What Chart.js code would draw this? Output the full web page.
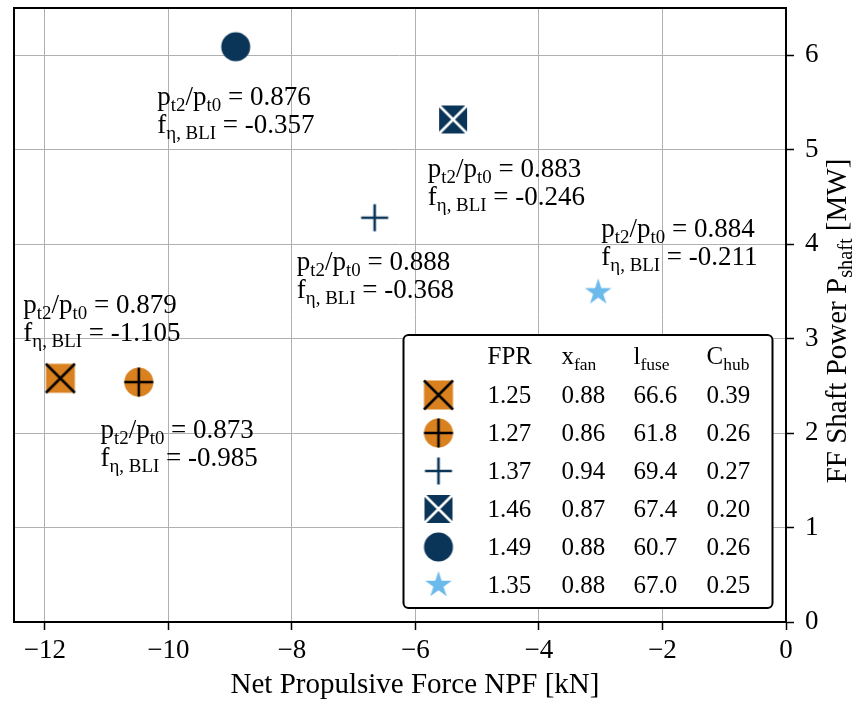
<!DOCTYPE html>
<html>
<head>
<meta charset="utf-8">
<script src="https://cdn.jsdelivr.net/npm/chart.js@4.4.1/dist/chart.umd.min.js"></script>
<style>
  html, body { margin: 0; padding: 0; background: #fff; }
  #wrap { width: 852px; height: 702px; }
</style>
</head>
<body>
<div id="wrap"><canvas id="chart" width="852" height="702"></canvas></div>
<script>
/* ---- data ---- */
const npf    = [-11.75, -10.48, -6.66, -5.39, -8.91, -3.04];   // kN
const pShaft = [2.58, 2.54, 4.28, 5.32, 6.09, 3.49];          // MW

const fpr   = ["1.25", "1.27", "1.37", "1.46", "1.49", "1.35"];
const xFan  = ["0.88", "0.86", "0.94", "0.87", "0.88", "0.88"];
const lFuse = ["66.6", "61.8", "69.4", "67.4", "60.7", "67.0"];
const cHub  = ["0.39", "0.26", "0.27", "0.20", "0.26", "0.25"];

const ptRatio = ["0.879", "0.873", "0.888", "0.883", "0.876", "0.884"];
const fBli    = ["-1.105", "-0.985", "-0.368", "-0.246", "-0.357", "-0.211"];

// where each annotation text starts (data coords, first line baseline)
const labelX = [-12.35, -11.10, -7.92, -5.80, -10.18, -2.99];
const labelY = [3.27, 1.95, 3.73, 4.71, 5.47, 4.08];

const xTicksStep = 2;
const yTicksStep = 1;

/* ---- styling ---- */
const FONT = "'Liberation Serif', 'Times New Roman', serif";
const FS_TABLE = 25;
const FS_NOTE = 27;
const FS_TICK = 27;
const FS_TITLE = 29;
const ORANGE = "#d9811e";
const NAVY = "#0b3558";
const SKY = "#6cb9eb";

/* ---- marker images ---- */
function makeMarker(kind) {
  const c = document.createElement("canvas");
  c.width = 34; c.height = 34;
  const g = c.getContext("2d");
  g.translate(17, 17);
  const h = 14.5;
  if (kind === "sqX" || kind === "sqXw") {
    g.fillStyle = kind === "sqX" ? ORANGE : NAVY;
    g.fillRect(-h, -h, 2 * h, 2 * h);
    g.strokeStyle = kind === "sqX" ? "#000" : "#fff";
    g.lineWidth = 2.5;
    g.beginPath();
    g.moveTo(-h, -h); g.lineTo(h, h);
    g.moveTo(h, -h); g.lineTo(-h, h);
    g.stroke();
    if (kind === "sqXw") {
      g.lineWidth = 1;
      g.strokeRect(-h, -h, 2 * h, 2 * h);
    }
  } else if (kind === "circPlus") {
    g.fillStyle = ORANGE;
    g.beginPath(); g.arc(0, 0, h, 0, Math.PI * 2); g.fill();
    g.strokeStyle = "#000"; g.lineWidth = 2.5;
    g.beginPath();
    g.moveTo(-h, 0); g.lineTo(h, 0);
    g.moveTo(0, -h); g.lineTo(0, h);
    g.stroke();
  } else if (kind === "plus") {
    g.strokeStyle = NAVY; g.lineWidth = 2.6;
    g.beginPath();
    g.moveTo(-13.5, 0); g.lineTo(13.5, 0);
    g.moveTo(0, -13.5); g.lineTo(0, 13.5);
    g.stroke();
  } else if (kind === "circ") {
    g.fillStyle = NAVY;
    g.beginPath(); g.arc(0, 0, h, 0, Math.PI * 2); g.fill();
  } else if (kind === "star") {
    const R = 14, r = R * 0.381966;
    g.fillStyle = SKY;
    g.beginPath();
    for (let k = 0; k < 10; k++) {
      const rad = k % 2 === 0 ? R : r;
      const a = -Math.PI / 2 + k * Math.PI / 5;
      const px = rad * Math.cos(a), py = rad * Math.sin(a);
      if (k === 0) g.moveTo(px, py); else g.lineTo(px, py);
    }
    g.closePath();
    g.fill();
  }
  return c;
}
const markers = ["sqX", "circPlus", "plus", "sqXw", "circ", "star"].map(makeMarker);

/* ---- text with subscripts ---- */
function drawRich(ctx, parts, x, y, size, measureOnly) {
  let cx = x;
  parts.forEach(p => {
    const t = p[0], sub = p[1];
    const s = sub ? size * 0.7 : size;
    ctx.font = s + "px " + FONT;
    if (!measureOnly) ctx.fillText(t, cx, sub ? y + size * 0.22 : y);
    cx += ctx.measureText(t).width;
  });
  return cx - x;
}

function fmtTick(v) {
  return v < 0 ? "\u2212" + Math.abs(v) : String(v);
}

function noScalePad(s) {
  s.paddingTop = 0; s.paddingBottom = 0;
  s.paddingLeft = 0; s.paddingRight = 0;
}

/* ---- plugins ---- */
const framePlugin = {
  id: "frame",
  afterDraw(chart) {
    const { ctx, chartArea: a } = chart;
    ctx.save();
    ctx.strokeStyle = "#000";
    ctx.lineWidth = 2;
    ctx.beginPath();
    ctx.moveTo(a.left, a.bottom + 1);
    ctx.lineTo(a.left, a.top);
    ctx.lineTo(a.right + 1, a.top);
    ctx.stroke();

    // axis titles
    ctx.fillStyle = "#000";
    ctx.textBaseline = "alphabetic";
    ctx.font = FS_TITLE + "px " + FONT;
    ctx.textAlign = "center";
    ctx.fillText("Net Propulsive Force NPF [kN]", (a.left + a.right) / 2 + 15, 693);

    ctx.textAlign = "left";
    const yParts = [["FF Shaft Power P"], ["shaft", 1], [" [MW]"]];
    const w = drawRich(ctx, yParts, 0, 0, FS_TITLE, true);
    ctx.translate(846, (a.top + a.bottom) / 2 + 6);
    ctx.rotate(-Math.PI / 2);
    drawRich(ctx, yParts, -w / 2, 0, FS_TITLE);
    ctx.restore();
  }
};

const notePlugin = {
  id: "notes",
  afterDatasetsDraw(chart) {
    const { ctx, scales } = chart;
    ctx.save();
    ctx.fillStyle = "#000";
    ctx.textAlign = "left";
    ctx.textBaseline = "alphabetic";
    ptRatio.forEach((r, i) => {
      const x = scales.x.getPixelForValue(labelX[i]);
      const y = scales.y.getPixelForValue(labelY[i]);
      drawRich(ctx, [["p"], ["t2", 1], ["/p"], ["t0", 1], [" = " + r]], x, y, FS_NOTE);
      drawRich(ctx, [["f"], ["\u03b7, BLI", 1], [" = " + fBli[i]]], x, y + 28, FS_NOTE);
    });
    ctx.restore();
  }
};

const tablePlugin = {
  id: "tableLegend",
  afterDraw(chart) {
    const { ctx, chartArea: a } = chart;
    const right = a.right - 13.5, bottom = a.bottom - 14;
    const left = right - 369, top = bottom - 273;
    ctx.save();
    ctx.beginPath();
    ctx.roundRect(left, top, right - left, bottom - top, 5);
    ctx.fillStyle = "#fff";
    ctx.fill();
    ctx.strokeStyle = "#000";
    ctx.lineWidth = 2;
    ctx.stroke();

    ctx.fillStyle = "#000";
    ctx.textAlign = "left";
    ctx.textBaseline = "alphabetic";
    const cols = [left + 84, left + 158, left + 230, left + 303];
    const headY = top + 29;
    drawRich(ctx, [["FPR"]], cols[0], headY, FS_TABLE);
    drawRich(ctx, [["x"], ["fan", 1]], cols[1], headY, FS_TABLE);
    drawRich(ctx, [["l"], ["fuse", 1]], cols[2], headY, FS_TABLE);
    drawRich(ctx, [["C"], ["hub", 1]], cols[3], headY, FS_TABLE);

    fpr.forEach((f, i) => {
      const base = top + 68 + i * 38;
      const m = markers[i];
      ctx.drawImage(m, left + 35 - m.width / 2, base - 8 - m.height / 2);
      [f, xFan[i], lFuse[i], cHub[i]].forEach((t, k) => {
        ctx.font = FS_TABLE + "px " + FONT;
        ctx.fillText(t, cols[k], base);
      });
    });
    ctx.restore();
  }
};

/* ---- chart ---- */
const tickFont = { family: FONT, size: FS_TICK };

new Chart(document.getElementById("chart"), {
  type: "scatter",
  data: {
    datasets: npf.map((x, i) => ({
      label: "FPR " + fpr[i],
      data: [{ x: x, y: pShaft[i] }],
      pointStyle: markers[i],
      pointRadius: 15,
      pointHoverRadius: 15
    }))
  },
  options: {
    responsive: false,
    animation: false,
    events: [],
    layout: { autoPadding: false, padding: { left: 14, top: 8, right: 0, bottom: 0 } },
    plugins: {
      legend: { display: false },
      tooltip: { enabled: false }
    },
    scales: {
      x: {
        type: "linear",
        min: -12.5,
        max: 0,
        afterFit(s) { s.height = 80; noScalePad(s); },
        ticks: {
          stepSize: xTicksStep,
          includeBounds: false,
          color: "#000",
          font: tickFont,
          padding: 5,
          maxRotation: 0,
          callback: v => fmtTick(v)
        },
        grid: {
          color: "#b0b0b0",
          lineWidth: 1,
          tickColor: "#000",
          tickLength: 8,
          tickWidth: 1.5
        },
        border: { color: "#000", width: 2 }
      },
      y: {
        position: "right",
        min: 0,
        max: 6.5,
        afterFit(s) { s.width = 66; noScalePad(s); },
        ticks: {
          stepSize: yTicksStep,
          includeBounds: false,
          color: "#000",
          font: tickFont,
          padding: 11,
          callback: v => fmtTick(v)
        },
        grid: {
          color: "#b0b0b0",
          lineWidth: 1,
          tickColor: "#000",
          tickLength: 8,
          tickWidth: 1.5
        },
        border: { color: "#000", width: 2 }
      }
    }
  },
  plugins: [notePlugin, tablePlugin, framePlugin]
});
</script>
</body>
</html>
